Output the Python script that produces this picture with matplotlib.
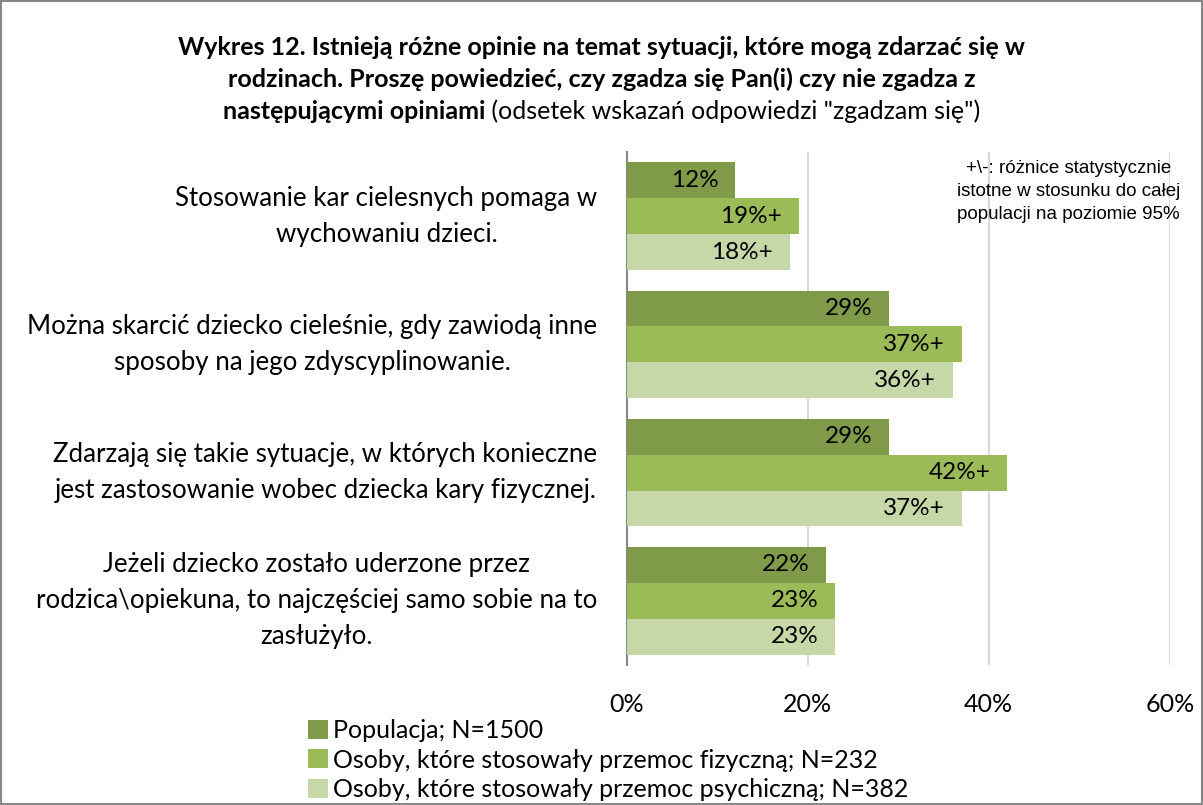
import numpy as np
import matplotlib.pyplot as plt
from matplotlib.patches import Rectangle

plt.rcParams['font.family'] = ['Lato', 'DejaVu Sans']

categories = [
    "Stosowanie kar cielesnych pomaga w\nwychowaniu dzieci.",
    "Można skarcić dziecko cieleśnie, gdy zawiodą inne\nsposoby na jego zdyscyplinowanie.",
    "Zdarzają się takie sytuacje, w których konieczne\njest zastosowanie wobec dziecka kary fizycznej.",
    "Jeżeli dziecko zostało uderzone przez\nrodzica\\opiekuna, to najczęściej samo sobie na to\nzasłużyło.",
]
series_names = [
    "Populacja; N=1500",
    "Osoby, które stosowały przemoc fizyczną; N=232",
    "Osoby, które stosowały przemoc psychiczną; N=382",
]
populacja = [12, 29, 29, 22]
fizyczna = [19, 37, 42, 23]
psychiczna = [18, 36, 37, 23]
labels_pop = ["12%", "29%", "29%", "22%"]
labels_fiz = ["19%+", "37%+", "42%+", "23%"]
labels_psy = ["18%+", "36%+", "37%+", "23%"]
colors = ['#7f9a48', '#9bbb59', '#c6d7a8']

fig = plt.figure(figsize=(12.03, 8.05), dpi=100)
fig.patches.append(Rectangle((0.001, 0.001), 0.998, 0.998, transform=fig.transFigure,
                             fill=False, edgecolor='#888888', linewidth=1.5))

ax = fig.add_axes([0.521, 0.174, 0.4514, 0.637])
n = len(categories)
y = np.arange(n)
h = 0.28
all_vals = [populacja, fizyczna, psychiczna]
all_labs = [labels_pop, labels_fiz, labels_psy]
for k in range(3):
    pos = y + (k - 1) * h
    ax.barh(pos, all_vals[k], height=h, color=colors[k], label=series_names[k], zorder=3)
    for p, v, t in zip(pos, all_vals[k], all_labs[k]):
        ax.annotate(t, (v, p), xytext=(-12, 0), textcoords='offset points',
                    ha='right', va='center', fontsize=17.5, color='black', zorder=4)

ax.set_xlim(0, 60)
ax.set_ylim(n - 0.5, -0.5)
ax.set_xticks([0, 20, 40, 60])
ax.set_xticklabels(["0%", "20%", "40%", "60%"], fontsize=18)
ax.tick_params(axis='x', length=0, pad=20)
ax.set_yticks(y)
ax.set_yticklabels(categories, fontsize=18.6, linespacing=1.55,
                   multialignment='center', va='center')
ax.tick_params(axis='y', length=0, pad=21)
ax.grid(axis='x', color='#d9d9d9', linewidth=1.5, zorder=0)
for s in ['top', 'right', 'bottom']:
    ax.spines[s].set_visible(False)
ax.spines['left'].set_color('#888888')
ax.spines['left'].set_linewidth(1.5)

ax.text(0.814, 0.985, "+\\-: różnice statystycznie\nistotne w stosunku do całej\npopulacji na poziomie 95%",
        transform=ax.transAxes, ha='center', va='top', fontsize=13.5,
        family='Liberation Sans', linespacing=1.45)

fs_title = 18
fig.text(0.5, 0.9416, "Wykres 12. Istnieją różne opinie na temat sytuacji, które mogą zdarzać się w",
         ha='center', va='center', fontsize=fs_title, fontweight='bold')
fig.text(0.5, 0.9019, "rodzinach. Proszę powiedzieć, czy zgadza się Pan(i) czy nie zgadza z",
         ha='center', va='center', fontsize=fs_title, fontweight='bold')
t1 = fig.text(0.5, 0.8621, "następującymi opiniami", ha='right', va='center',
              fontsize=fs_title, fontweight='bold')
t2 = fig.text(0.5, 0.8621, " (odsetek wskazań odpowiedzi \"zgadzam się\")", ha='left', va='center',
              fontsize=fs_title)

leg = fig.legend(loc='upper left', bbox_to_anchor=(0.256, 0.107), frameon=False,
                 fontsize=18, handlelength=0.8, handleheight=0.8, handletextpad=0.2,
                 labelspacing=0.27, borderaxespad=0, borderpad=0)

fig.canvas.draw()
# centre the mixed bold / regular last title line
r = fig.canvas.get_renderer()
bb1 = t1.get_window_extent(r)
bb2 = t2.get_window_extent(r)
total = bb2.x1 - bb1.x0
start = (fig.bbox.width - total) / 2
dx = (start - bb1.x0) / fig.bbox.width
t1.set_x(0.5 + dx)
t2.set_x(0.5 + dx)

fig.savefig('out.png', dpi=100)
